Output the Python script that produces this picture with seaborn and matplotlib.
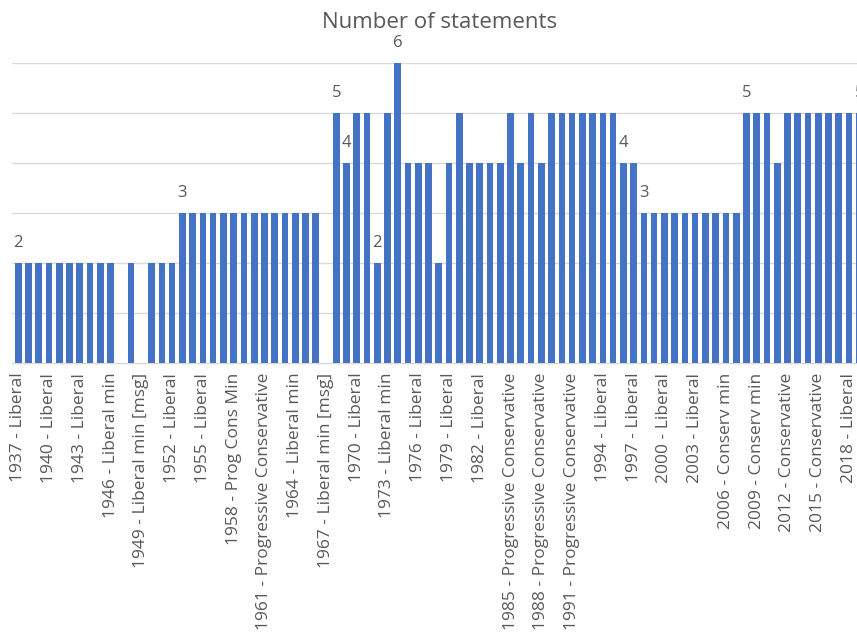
import matplotlib
matplotlib.use("Agg")
import matplotlib.pyplot as plt
import seaborn as sns
import pandas as pd

# Statements per year
years = [
    1937, 1938, 1939, 1940, 1941, 1942, 1943, 1944, 1945, 1946,
    1947, 1948, 1949, 1950, 1951, 1952, 1953, 1954, 1955, 1956,
    1957, 1958, 1959, 1960, 1961, 1962, 1963, 1964, 1965, 1966,
    1967, 1968, 1969, 1970, 1971, 1972, 1973, 1974, 1975, 1976,
    1977, 1978, 1979, 1980, 1981, 1982, 1983, 1984, 1985, 1986,
    1987, 1988, 1989, 1990, 1991, 1992, 1993, 1994, 1995, 1996,
    1997, 1998, 1999, 2000, 2001, 2002, 2003, 2004, 2005, 2006,
    2007, 2008, 2009, 2010, 2011, 2012, 2013, 2014, 2015, 2016,
    2017, 2018, 2019,
]
statements = [
    2, 2, 2, 2, 2, 2, 2, 2, 2, 2,
    0, 2, 0, 2, 2, 2, 3, 3, 3, 3,
    3, 3, 3, 3, 3, 3, 3, 3, 3, 3,
    0, 5, 4, 5, 5, 2, 5, 6, 4, 4,
    4, 2, 4, 5, 4, 4, 4, 4, 5, 4,
    5, 4, 5, 5, 5, 5, 5, 5, 5, 4,
    4, 3, 3, 3, 3, 3, 3, 3, 3, 3,
    3, 5, 5, 5, 4, 5, 5, 5, 5, 5,
    5, 5, 5,
]

# Category labels shown on the axis (every third year)
tick_labels = [
    "1937 - Liberal", "1940 - Liberal", "1943 - Liberal", "1946 - Liberal min",
    "1949 - Liberal min [msg]", "1952 - Liberal", "1955 - Liberal",
    "1958 - Prog Cons Min", "1961 - Progressive Conservative",
    "1964 - Liberal min", "1967 - Liberal min [msg]", "1970 - Liberal",
    "1973 - Liberal min", "1976 - Liberal", "1979 - Liberal", "1982 - Liberal",
    "1985 - Progressive Conservative", "1988 - Progressive Conservative",
    "1991 - Progressive Conservative", "1994 - Liberal", "1997 - Liberal",
    "2000 - Liberal", "2003 - Liberal", "2006 - Conserv min",
    "2009 - Conserv min", "2012 - Conservative", "2015 - Conservative",
    "2018 - Liberal",
]

# Years whose bar carries a value label
labelled_years = [1937, 1953, 1968, 1969, 1972, 1974, 1996, 1998, 2008, 2019]

BAR = "#4472C4"
TEXT = "#595959"
GRID = "#D9D9D9"

sns.set_theme(style="white")
plt.rcParams["font.family"] = ["Open Sans", "DejaVu Sans"]

df = pd.DataFrame({"year": [str(y) for y in years], "n": statements})

fig = plt.figure(figsize=(8.57, 6.39), dpi=100)
ax = fig.add_axes([12 / 857, 1 - 363 / 639, 845 / 857, 300 / 639])

sns.barplot(data=df, x="year", y="n", order=df["year"], color=BAR,
            saturation=1, width=0.65, linewidth=0, ax=ax, zorder=3)

ax.set_ylim(0, 6)
ax.set_xlim(-0.614, 81.78)
ax.set_yticks([1, 2, 3, 4, 5, 6])
ax.set_yticklabels([])
ax.yaxis.grid(True, color=GRID, linewidth=1.0, zorder=0)
ax.xaxis.grid(False)
ax.set_axisbelow(True)

tick_pos = [years.index(int(lbl[:4])) for lbl in tick_labels]
ax.set_xticks(tick_pos)
ax.set_xticklabels(tick_labels, rotation=90, fontsize=12.5, color=TEXT,
                   ha="center", va="top")
ax.tick_params(axis="x", length=0, pad=7)
ax.tick_params(axis="y", length=0)
ax.set_xlabel("")
ax.set_ylabel("")

for side in ["top", "left", "right"]:
    ax.spines[side].set_visible(False)
ax.spines["bottom"].set_color(GRID)
ax.spines["bottom"].set_linewidth(1.0)

for y in labelled_years:
    i = years.index(y)
    ax.annotate(str(statements[i]), xy=(i, statements[i]),
                xytext=(0, 16), textcoords="offset pixels",
                ha="center", va="baseline", fontsize=12, color=TEXT,
                annotation_clip=False)

fig.text(439.7 / 857, 1 - 28 / 639, "Number of statements", ha="center",
         va="baseline", fontsize=16, color=TEXT)

fig.savefig("out.png", dpi=100)
